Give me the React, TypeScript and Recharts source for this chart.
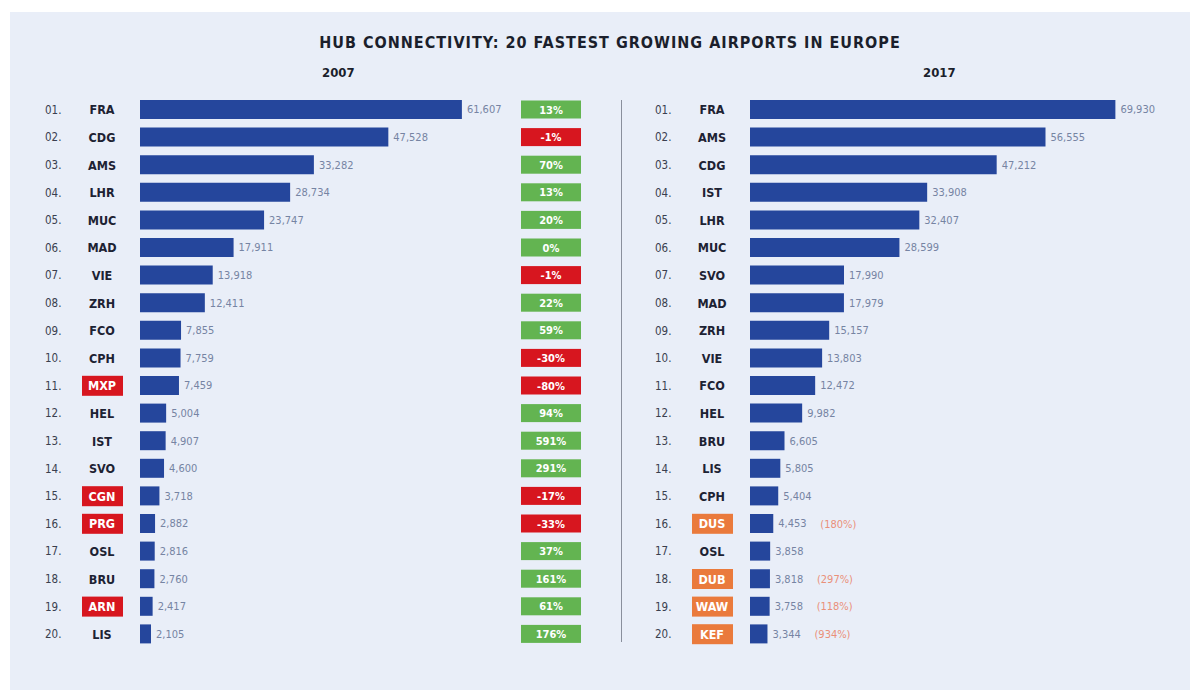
import React from 'react';
import { Bar, BarChart, LabelList, XAxis, YAxis } from 'recharts';

const ranks = [
  '01.', '02.', '03.', '04.', '05.', '06.', '07.', '08.', '09.', '10.',
  '11.', '12.', '13.', '14.', '15.', '16.', '17.', '18.', '19.', '20.'
];

const codes2007 = [
  'FRA', 'CDG', 'AMS', 'LHR', 'MUC', 'MAD', 'VIE', 'ZRH', 'FCO', 'CPH',
  'MXP', 'HEL', 'IST', 'SVO', 'CGN', 'PRG', 'OSL', 'BRU', 'ARN', 'LIS'
];
const values2007 = [
  61607, 47528, 33282, 28734, 23747, 17911, 13918, 12411, 7855, 7759,
  7459, 5004, 4907, 4600, 3718, 2882, 2816, 2760, 2417, 2105
];
const change2007 = [
  '13%', '-1%', '70%', '13%', '20%', '0%', '-1%', '22%', '59%', '-30%',
  '-80%', '94%', '591%', '291%', '-17%', '-33%', '37%', '161%', '61%', '176%'
];
const dropped2007 = ['MXP', 'CGN', 'PRG', 'ARN'];

const codes2017 = [
  'FRA', 'AMS', 'CDG', 'IST', 'LHR', 'MUC', 'SVO', 'MAD', 'ZRH', 'VIE',
  'FCO', 'HEL', 'BRU', 'LIS', 'CPH', 'DUS', 'OSL', 'DUB', 'WAW', 'KEF'
];
const values2017 = [
  69930, 56555, 47212, 33908, 32407, 28599, 17990, 17979, 15157, 13803,
  12472, 9982, 6605, 5805, 5404, 4453, 3858, 3818, 3758, 3344
];
const growth2017 = [
  '', '', '', '', '', '', '', '', '', '',
  '', '', '', '', '', '(180%)', '', '(297%)', '(118%)', '(934%)'
];
const new2017 = ['DUS', 'DUB', 'WAW', 'KEF'];

const data2007 = ranks.map((rank, i) => ({
  rank,
  code: codes2007[i],
  value: values2007[i],
  change: change2007[i]
}));

const data2017 = ranks.map((rank, i) => ({
  rank,
  code: codes2017[i],
  value: values2017[i],
  growth: growth2017[i]
}));

const FONT = '"DejaVu Sans Condensed", "Liberation Sans Narrow", sans-serif';
const BLUE = '#25469c';
const CHART_W = 620;
const CHART_H = 698;
const TOP = 96;
const BOTTOM = 50;
const AXIS_W = 140;

// rank + airport code drawn as the category tick
const makeTick = (codes: string[], flagged: string[], flagColor: string) => (props: any) => {
  const { y, payload } = props;
  const i = ranks.indexOf(payload.value);
  const code = codes[i];
  const isFlag = flagged.includes(code);
  const x = AXIS_W;
  return (
    <g>
      <text x={x - 95} y={y} dy={4} fontSize={11.5} fill="#3a3f4f" fontFamily={FONT}>
        {payload.value}
      </text>
      {isFlag && <rect x={x - 58} y={y - 10} width={41} height={20} fill={flagColor} />}
      <text
        x={x - 38}
        y={y}
        dy={4.5}
        textAnchor="middle"
        fontSize={12.5}
        fontWeight="bold"
        fill={isFlag ? '#ffffff' : '#1d2233'}
        fontFamily={FONT}
      >
        {code}
      </text>
    </g>
  );
};

const ChangeBadge = (props: any) => {
  const { x, y, height, value } = props;
  const neg = String(value).startsWith('-');
  const cy = y + height / 2;
  return (
    <g>
      <rect x={x + 381} y={cy - 9} width={60} height={18} fill={neg ? '#d7161f' : '#63b451'} />
      <text
        x={x + 411}
        y={cy}
        dy={4}
        textAnchor="middle"
        fontSize={11}
        fontWeight="bold"
        fill="#ffffff"
        fontFamily={FONT}
      >
        {value}
      </text>
    </g>
  );
};

const GrowthText = (props: any) => {
  const { x, y, width, height, value } = props;
  if (!value) return null;
  return (
    <text
      x={x + width + 47}
      y={y + height / 2}
      dy={4}
      fontSize={11}
      fill="#e9907a"
      fontFamily={FONT}
    >
      {value}
    </text>
  );
};

const fmt = (v: any) => Number(v).toLocaleString('en-US');

const Panel = ({ data, codes, flagged, flagColor, left, extra }: any) => (
  <div style={{ position: 'absolute', left, top: 0 }}>
    <BarChart
      width={CHART_W}
      height={CHART_H}
      data={data}
      layout="vertical"
      margin={{ top: TOP, right: CHART_W - AXIS_W - 418, bottom: BOTTOM, left: 0 }}
      barCategoryGap={4}
    >
      <XAxis type="number" domain={[0, 80000]} hide />
      <YAxis
        type="category"
        dataKey="rank"
        width={AXIS_W}
        axisLine={false}
        tickLine={false}
        tickSize={0}
        tickMargin={0}
        interval={0}
        tick={makeTick(codes, flagged, flagColor)}
      />
      <Bar dataKey="value" fill={BLUE} barSize={19} isAnimationActive={false}>
        <LabelList
          dataKey="value"
          position="right"
          offset={5}
          formatter={fmt}
          fontSize={11}
          fill="#7684a3"
          fontFamily={FONT}
        />
        {extra}
      </Bar>
    </BarChart>
  </div>
);

export default function App() {
  return (
    <div style={{ position: 'absolute', left: 0, top: 0, width: 1200, height: 698, background: '#ffffff', overflow: 'hidden' }}>
      <div style={{ position: 'absolute', left: 10, top: 12, width: 1180, height: 678, background: '#e9eef8' }} />
      <div
        style={{
          position: 'absolute',
          left: 0,
          top: 33,
          width: 1220,
          textAlign: 'center',
          fontFamily: FONT,
          fontWeight: 'bold',
          fontSize: 16,
          letterSpacing: 1,
          color: '#1b1f2c'
        }}
      >
        HUB CONNECTIVITY: 20 FASTEST GROWING AIRPORTS IN EUROPE
      </div>
      <div style={{ position: 'absolute', left: 322, top: 65, fontFamily: FONT, fontWeight: 'bold', fontSize: 13, color: '#1b1f2c' }}>
        2007
      </div>
      <div style={{ position: 'absolute', left: 923, top: 65, fontFamily: FONT, fontWeight: 'bold', fontSize: 13, color: '#1b1f2c' }}>
        2017
      </div>
      <div style={{ position: 'absolute', left: 621, top: 100, width: 1, height: 542, background: '#8a8f9c' }} />
      <Panel
        data={data2007}
        codes={codes2007}
        flagged={dropped2007}
        flagColor="#d7161f"
        left={0}
        extra={<LabelList dataKey="change" content={ChangeBadge} />}
      />
      <Panel
        data={data2017}
        codes={codes2017}
        flagged={new2017}
        flagColor="#ea7a3c"
        left={610}
        extra={<LabelList dataKey="growth" content={GrowthText} />}
      />
    </div>
  );
}
